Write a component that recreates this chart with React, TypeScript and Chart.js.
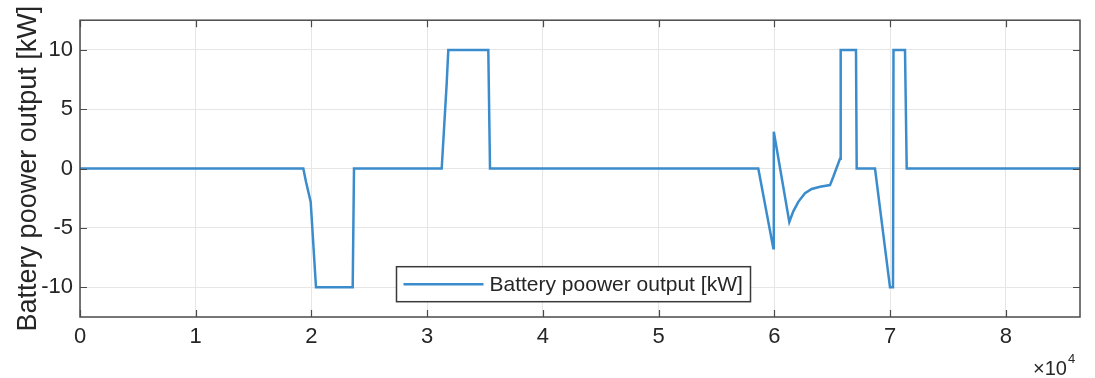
import React, { useEffect, useRef } from 'react';
import { Chart, registerables } from 'chart.js';

Chart.register(...registerables);

// ---- Data ----
const timeSec: number[] = [
  0, 19293, 19526, 19932, 20390, 23561, 23674,
  31251, 31683, 31821, 35277, 35424,
  58605, 59901, 59945, 61284, 61629, 62061, 62640, 63219, 63936, 64800, 65085, 65664, 65724,
  67046, 67106, 68688, 69984, 70243, 70286, 71280, 71427, 86400,
];
const batteryKW: number[] = [
  0, 0, -1.1, -2.8, -10, -10, 0,
  0, 7.2, 10, 10, 0,
  0, -6.7, 3.1, -4.5, -3.6, -2.8, -2.08, -1.72, -1.53, -1.39, -0.69, 0.83, 10,
  10, 0, 0, -10, -10, 10, 10, 0, 0,
];
const xTickValues: number[] = [0, 10000, 20000, 30000, 40000, 50000, 60000, 70000, 80000];
const yTickValues: number[] = [-10, -5, 0, 5, 10];
const xMin = 0;
const xMax = 86400;
const yMin = -12.5;
const yMax = 12.5;
const seriesLabel = 'Battery poower output [kW]';
const yAxisTitle = 'Battery poower output [kW]';
const xExponentBase = '×10';
const xExponent = '4';

const FONT = '"Liberation Sans", Arial, Helvetica, sans-serif';
const LINE_COLOR = '#3b8ccc';
const AXIS_COLOR = '#4a4a4a';
const TEXT_COLOR = '#262626';
const GRID_COLOR = '#e6e6e6';

const framePlugin = {
  id: 'matlabFrame',
  afterDraw(chart: any) {
    const { ctx, chartArea, scales } = chart;
    const { left, right, top, bottom } = chartArea;
    const xs = scales.x;
    const ys = scales.y;
    ctx.save();
    // frame
    ctx.strokeStyle = AXIS_COLOR;
    ctx.lineWidth = 1.5;
    ctx.strokeRect(left, top, right - left, bottom - top);
    // inward ticks
    const tl = 7;
    ctx.lineWidth = 1.2;
    ctx.beginPath();
    xTickValues.forEach((v) => {
      const px = Math.round(xs.getPixelForValue(v)) + 0.5;
      ctx.moveTo(px, bottom);
      ctx.lineTo(px, bottom - tl);
      ctx.moveTo(px, top);
      ctx.lineTo(px, top + tl);
    });
    yTickValues.forEach((v) => {
      const py = Math.round(ys.getPixelForValue(v)) + 0.5;
      ctx.moveTo(left, py);
      ctx.lineTo(left + tl, py);
      ctx.moveTo(right, py);
      ctx.lineTo(right - tl, py);
    });
    ctx.stroke();

    // legend box
    const lx = left + 316.5;
    const ly = top + 246.5;
    const lw = 354;
    const lh = 35;
    ctx.fillStyle = '#ffffff';
    ctx.fillRect(lx, ly, lw, lh);
    ctx.strokeStyle = '#3a3a3a';
    ctx.lineWidth = 1.5;
    ctx.strokeRect(lx, ly, lw, lh);
    const ds = chart.data.datasets[0];
    ctx.strokeStyle = ds.borderColor;
    ctx.lineWidth = ds.borderWidth;
    ctx.beginPath();
    ctx.moveTo(lx + 7, ly + lh / 2);
    ctx.lineTo(lx + 87, ly + lh / 2);
    ctx.stroke();
    ctx.fillStyle = TEXT_COLOR;
    ctx.font = `21px ${FONT}`;
    ctx.textAlign = 'left';
    ctx.textBaseline = 'middle';
    ctx.fillText(ds.label, lx + 93, ly + lh / 2 + 1);

    // x exponent
    ctx.font = `20px ${FONT}`;
    ctx.textBaseline = 'alphabetic';
    const ex = 1033;
    ctx.fillText(xExponentBase, ex, 375);
    const w = ctx.measureText(xExponentBase).width;
    ctx.font = `13px ${FONT}`;
    ctx.fillText(xExponent, ex + w + 1, 363);
    ctx.restore();
  },
};

export default function App() {
  const canvasRef = useRef<HTMLCanvasElement | null>(null);

  useEffect(() => {
    document.body.style.margin = '0';
    const canvas = canvasRef.current;
    if (!canvas) return;
    const chart = new Chart(canvas, {
      type: 'line',
      data: {
        datasets: [
          {
            label: seriesLabel,
            data: timeSec.map((t, i) => ({ x: t, y: batteryKW[i] })),
            borderColor: LINE_COLOR,
            borderWidth: 2.5,
            pointRadius: 0,
            tension: 0,
            fill: false,
          },
        ],
      },
      options: {
        responsive: false,
        animation: false,
        devicePixelRatio: 1,
        layout: { padding: { left: 0, top: 17, right: 15, bottom: 0 } },
        plugins: {
          legend: { display: false },
          tooltip: { enabled: false },
        },
        scales: {
          x: {
            type: 'linear',
            min: xMin,
            max: xMax,
            afterBuildTicks: (scale: any) => {
              scale.ticks = xTickValues.map((v) => ({ value: v }));
            },
            afterFit: (scale: any) => {
              scale.height = 61;
            },
            grid: { color: GRID_COLOR, drawTicks: false, lineWidth: 1 },
            border: { display: false },
            ticks: {
              padding: 7,
              maxRotation: 0,
              autoSkip: false,
              color: TEXT_COLOR,
              font: { family: FONT, size: 22 },
              callback: (v: any) => String(Number(v) / 10000),
            },
          },
          y: {
            type: 'linear',
            min: yMin,
            max: yMax,
            afterBuildTicks: (scale: any) => {
              scale.ticks = yTickValues.map((v) => ({ value: v }));
            },
            afterFit: (scale: any) => {
              scale.width = 80;
            },
            grid: { color: GRID_COLOR, drawTicks: false, lineWidth: 1 },
            border: { display: false },
            title: {
              display: true,
              text: yAxisTitle,
              color: TEXT_COLOR,
              font: { family: FONT, size: 27 },
              padding: { top: 12, bottom: 0 },
            },
            ticks: {
              padding: 7,
              autoSkip: false,
              color: TEXT_COLOR,
              font: { family: FONT, size: 22 },
              callback: (v: any) => String(v),
            },
          },
        },
      },
      plugins: [framePlugin],
    } as any);
    return () => chart.destroy();
  }, []);

  return (
    <div style={{ position: 'absolute', left: 0, top: 0, width: 1095, height: 378, background: '#fff' }}>
      <canvas ref={canvasRef} width={1095} height={378} />
    </div>
  );
}
